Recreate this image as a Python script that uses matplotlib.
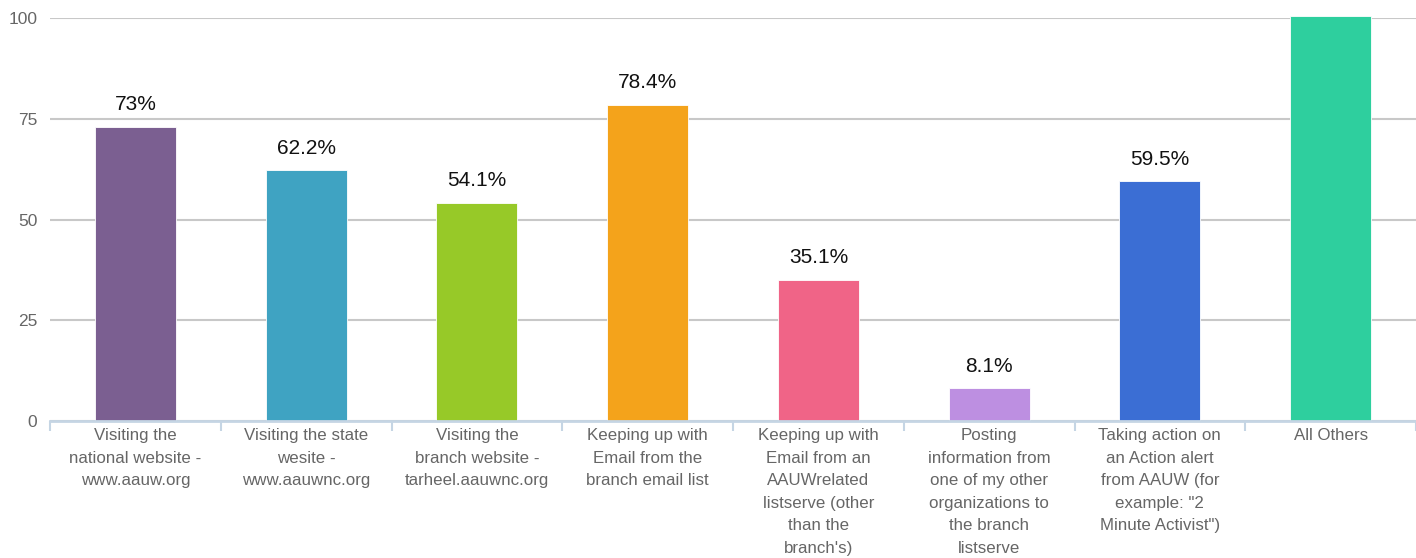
import matplotlib.pyplot as plt
import numpy as np

# categories and values
categories = [
    "Visiting the\nnational website -\nwww.aauw.org",
    "Visiting the state\nwesite -\nwww.aauwnc.org",
    "Visiting the\nbranch website -\ntarheel.aauwnc.org",
    "Keeping up with\nEmail from the\nbranch email list",
    "Keeping up with\nEmail from an\nAAUWrelated\nlistserve (other\nthan the\nbranch's)",
    "Posting\ninformation from\none of my other\norganizations to\nthe branch\nlistserve",
    "Taking action on\nan Action alert\nfrom AAUW (for\nexample: \"2\nMinute Activist\")",
    "All Others",
]
values = [73, 62.2, 54.1, 78.4, 35.1, 8.1, 59.5, 100.5]
value_labels = ["73%", "62.2%", "54.1%", "78.4%", "35.1%", "8.1%", "59.5%", ""]
colors = ["#7b5f91", "#3fa3c2", "#97c928", "#f4a31b",
          "#f06487", "#bd8fe1", "#3b6ed4", "#2ecf9e"]
yticks = [0, 25, 50, 75, 100]

plt.rcParams['font.family'] = ['Liberation Sans', 'DejaVu Sans']

fig = plt.figure(figsize=(14.16, 5.58), dpi=100)
ax = fig.add_axes([50 / 1416, 137 / 558, 1 - 50 / 1416, (421 - 18) / 558])

x = np.arange(len(categories))
bars = ax.bar(x, values, width=0.475, color=colors, zorder=3,
              edgecolor='white', linewidth=0.6, clip_on=False)

# value labels above bars
for xi, v, lab in zip(x, values, value_labels):
    if lab:
        ax.annotate(lab, (xi, v), xytext=(0, 12), textcoords='offset points',
                    ha='center', va='baseline', fontsize=15, color='#111111')

ax.set_xlim(-0.5, len(categories) - 0.5)
ax.set_ylim(0, 100)

# grid
ax.set_yticks(yticks)
ax.yaxis.grid(True, color='#c8c8c8', linewidth=1.5, zorder=0)
ax.tick_params(axis='y', length=0, pad=9, labelsize=12.5, labelcolor='#666666')

# x axis: labels at centres, separator ticks at boundaries
ax.set_xticks(x)
ax.set_xticklabels(categories, fontsize=12.2, color='#666666', linespacing=1.63)
ax.tick_params(axis='x', which='major', length=0, pad=5)
ax.set_xticks(np.arange(len(categories) + 1) - 0.5, minor=True)
ax.tick_params(axis='x', which='minor', length=7, width=1.5, color='#c5d5e4')

for s in ['top', 'right', 'left']:
    ax.spines[s].set_visible(False)
ax.spines['bottom'].set_color('#c5d5e4')
ax.spines['bottom'].set_linewidth(2)
ax.spines['bottom'].set_zorder(4)

fig.savefig('out.png', dpi=100)
